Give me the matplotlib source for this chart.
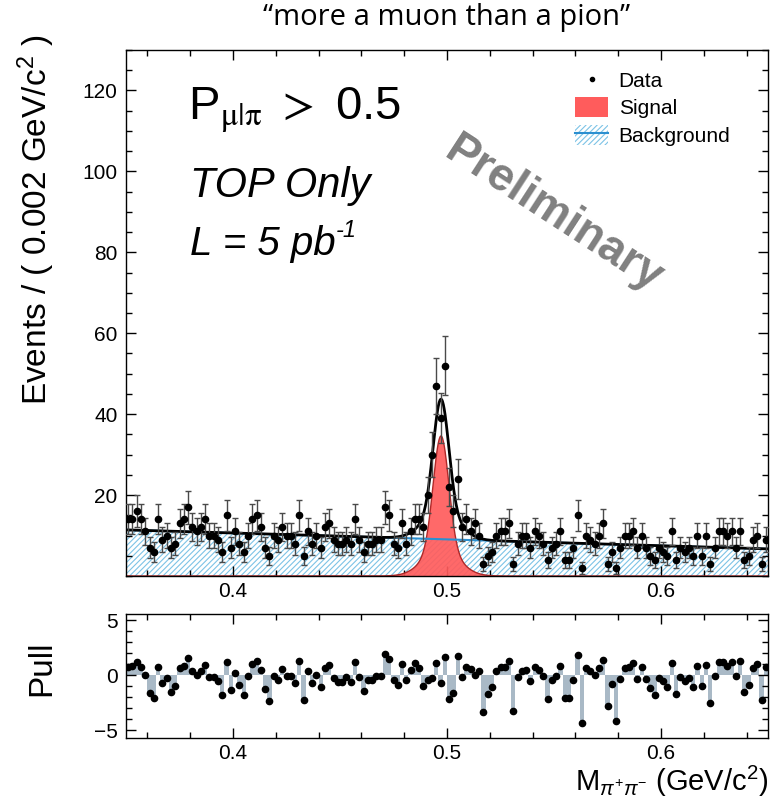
import numpy as np
import matplotlib.pyplot as plt
from matplotlib.ticker import MultipleLocator
from matplotlib.patches import Patch
from matplotlib.lines import Line2D

plt.rcParams['font.family'] = ['Liberation Sans', 'DejaVu Sans']
plt.rcParams['mathtext.fontset'] = 'custom'
plt.rcParams['mathtext.rm'] = 'Liberation Sans'
plt.rcParams['mathtext.it'] = 'Liberation Sans:italic'
plt.rcParams['hatch.color'] = '#7cc3e6'
plt.rcParams['hatch.linewidth'] = 0.8

# binning of the mass histogram
x_lo, x_hi, n_bins = 0.35, 0.65, 150

# events per bin
counts = [14, 14, 16, 14, 11, 7, 6, 14, 9, 10,
          7, 8, 13, 14, 17, 12, 11, 12, 14, 10,
          10, 9, 6, 15, 7, 11, 8, 6, 10, 14,
          15, 12, 7, 5, 10, 9, 12, 10, 10, 8,
          15, 5, 11, 8, 10, 7, 12, 13, 9, 8,
          8, 9, 8, 14, 9, 6, 8, 8, 9, 9,
          17, 15, 8, 7, 13, 8, 11, 14, 14, 12,
          20, 30, 47, 39, 52, 22, 16, 24, 12, 14,
          11, 13, 10, 3, 5, 6, 10, 11, 11, 13,
          3, 8, 10, 10, 7, 11, 10, 8, 4, 7,
          8, 11, 4, 4, 7, 15, 2, 10, 9, 8,
          10, 13, 3, 6, 2, 7, 10, 10, 11, 7,
          10, 7, 5, 4, 7, 6, 5, 11, 4, 7,
          6, 7, 5, 10, 5, 10, 3, 7, 11, 11,
          10, 11, 7, 11, 4, 5, 9, 10, 3, 9]

# pull per bin
pulls = [0.78, 0.8, 1.23, 0.78, 0.0, -1.6, -2.07, 0.78, -0.7, -0.27,
         -1.53, -1.0, 0.63, 0.87, 1.53, 0.36, 0.06, 0.42, 0.93, -0.2,
         -0.2, -0.5, -1.83, 1.23, -1.32, 0.2, -0.87, -1.77, -0.1, 1.0,
         1.29, 0.5, -1.23, -2.34, -0.03, -0.4, 0.57, -0.05, -0.03, -0.72,
         1.29, -2.22, 0.39, -0.7, 0.0, -1.1, 0.63, 0.96, -0.27, -0.63,
         -0.63, -0.2, -0.63, 1.23, -0.2, -1.47, -0.48, -0.48, -0.1, -0.1,
         1.9, 1.47, -0.48, -0.93, 1.02, -0.48, 0.48, 1.1, 0.63, -1.0,
         -0.48, -0.27, 1.1, -0.72, 1.68, -2.13, -1.62, 1.77, -0.18, 0.72,
         0.57, 0.06, 0.42, -3.33, -1.68, -1.1, 0.42, 0.72, 0.75, 1.26,
         -3.27, -0.18, 0.42, 0.48, -0.51, 0.78, 0.48, -0.12, -2.19, -0.48,
         -0.12, 0.87, -2.07, -2.07, -0.42, 1.83, -4.38, 0.63, 0.36, 0.03,
         0.63, 1.41, -2.82, -0.78, -4.17, -0.33, 0.63, 0.72, 1.08, -0.33,
         0.72, -0.33, -1.17, -1.77, -0.24, -0.54, -1.11, 1.08, -1.71, -0.18,
         -0.57, -0.24, -1.08, 0.87, -1.02, 0.93, -2.49, -0.09, 1.23, 1.23,
         0.87, 1.23, -0.03, 1.26, -1.53, -0.93, 0.63, 0.99, -2.22, 0.72]

# fit result: linear background + double gaussian signal
bkg_left, bkg_right = 11.4, 6.7
sig_mean, sig_peak = 0.4972, 34.6
sig_w1, sig_w2, sig_frac = 0.0036, 0.008, 0.8

edges = np.linspace(x_lo, x_hi, n_bins + 1)
centers = 0.5 * (edges[:-1] + edges[1:])
bin_w = edges[1] - edges[0]
counts = np.array(counts, dtype=float)

xf = np.linspace(x_lo, x_hi, 1500)
bkg = bkg_left + (bkg_right - bkg_left) * (xf - x_lo) / (x_hi - x_lo)
d = xf - sig_mean
sig = sig_peak * (sig_frac * np.exp(-0.5 * (d / sig_w1) ** 2)
                  + (1 - sig_frac) * np.exp(-0.5 * (d / sig_w2) ** 2))

red = '#ff5c5c'
blue = '#2b8fd0'
hatch_col = '#7cc3e6'

fig = plt.figure(figsize=(7.7, 7.98), dpi=100)
ax = fig.add_axes([126 / 770, 1 - 576 / 798, 642 / 770, 526 / 798])
ax2 = fig.add_axes([126 / 770, 1 - 738 / 798, 642 / 770, 124 / 798])

# main panel
ax.fill_between(xf, 0, bkg, facecolor='white', edgecolor=hatch_col,
                hatch='//////', linewidth=0, zorder=1)
ax.fill_between(xf, 0, sig, facecolor=red, alpha=0.92, linewidth=0, zorder=2)
ax.plot(xf, sig, color='#b02828', lw=1, zorder=2)
ax.plot(xf, bkg, color=blue, lw=1.5, zorder=3)
ax.plot(xf, bkg + sig, color='k', lw=2, zorder=4)
ax.errorbar(centers, counts, yerr=np.sqrt(counts), fmt='o', color='k',
            ecolor='#4a4a4a', elinewidth=1, capsize=2, capthick=1,
            markersize=4.5, zorder=5)

ax.set_xlim(x_lo, x_hi)
ax.set_ylim(0, 130)
ax.xaxis.set_major_locator(MultipleLocator(0.1))
ax.xaxis.set_minor_locator(MultipleLocator(0.02))
ax.yaxis.set_minor_locator(MultipleLocator(5))
ax.set_yticks([20, 40, 60, 80, 100, 120])
ax.set_ylabel('Events / ( 0.002 GeV/c$^{2}$ )', fontsize=24)
ax.yaxis.set_label_coords(-0.107, 0.677)

# pull panel
ax2.bar(centers, pulls, width=bin_w, color='#a9b9c6', linewidth=0)
ax2.plot(centers, pulls, 'o', color='k', markersize=4.5)
ax2.set_xlim(x_lo, x_hi)
ax2.set_ylim(-5.7, 5.55)
ax2.xaxis.set_major_locator(MultipleLocator(0.1))
ax2.xaxis.set_minor_locator(MultipleLocator(0.02))
ax2.yaxis.set_major_locator(MultipleLocator(5))
ax2.yaxis.set_minor_locator(MultipleLocator(1))
ax2.set_ylabel('Pull', fontsize=24)
ax2.yaxis.set_label_coords(-0.107, 0.565)

for a in (ax, ax2):
    a.tick_params(which='both', direction='in', top=True, right=True,
                  labelsize=15, width=1)
    a.tick_params(which='major', length=7)
    a.tick_params(which='minor', length=4)
    a.tick_params(axis='y', pad=6)
    a.tick_params(axis='x', pad=4)
    for s in a.spines.values():
        s.set_linewidth(1)

# legend
handles = [Line2D([], [], marker='o', color='k', linestyle='none', markersize=3),
           Patch(facecolor=red, edgecolor='none'),
           (Patch(facecolor='white', edgecolor=hatch_col, hatch='//////', linewidth=0),
            Line2D([], [], color=blue, lw=1.5))]
ax.legend(handles, ['Data', 'Signal', 'Background'], loc='upper left',
          bbox_to_anchor=(575 / 770, 1 - 70 / 798), bbox_transform=fig.transFigure,
          frameon=False, fontsize=15, handlelength=1.6, handleheight=1.1,
          handletextpad=0.5, labelspacing=0.3, borderpad=0, borderaxespad=0)

# annotations
ax.text(188 / 770, 1 - 120 / 798, r'P$_{\mathrm{\mu|\pi}}$ $>$ 0.5',
        transform=fig.transFigure, fontsize=34, math_fontfamily='stix',
        va='baseline')
ax.text(190 / 770, 1 - 197 / 798, 'TOP Only', transform=fig.transFigure,
        fontsize=30, style='italic', va='baseline')
ax.text(190 / 770, 1 - 255 / 798, 'L = 5 pb', transform=fig.transFigure,
        fontsize=29, style='italic', va='baseline')
ax.text(336 / 770, 1 - 237 / 798, '-1', transform=fig.transFigure,
        fontsize=17, style='italic', va='baseline')
ax.text(554 / 770, 1 - 215 / 798, 'Preliminary', transform=fig.transFigure,
        fontsize=33, fontweight='bold', color='#808080', rotation=-33,
        ha='center', va='center', rotation_mode='anchor')

fig.text(447 / 770, 1 - 18 / 798, '\u201cmore a muon than a pion\u201d',
         family=['Open Sans', 'DejaVu Sans'], fontsize=21, ha='center', va='center')
fig.text(768 / 770, 1 - 791 / 798, r'M$_{\pi^{+}\pi^{-}}$ (GeV/c$^{2}$)',
         fontsize=21, ha='right', va='baseline')

fig.savefig('out.png', dpi=100)
